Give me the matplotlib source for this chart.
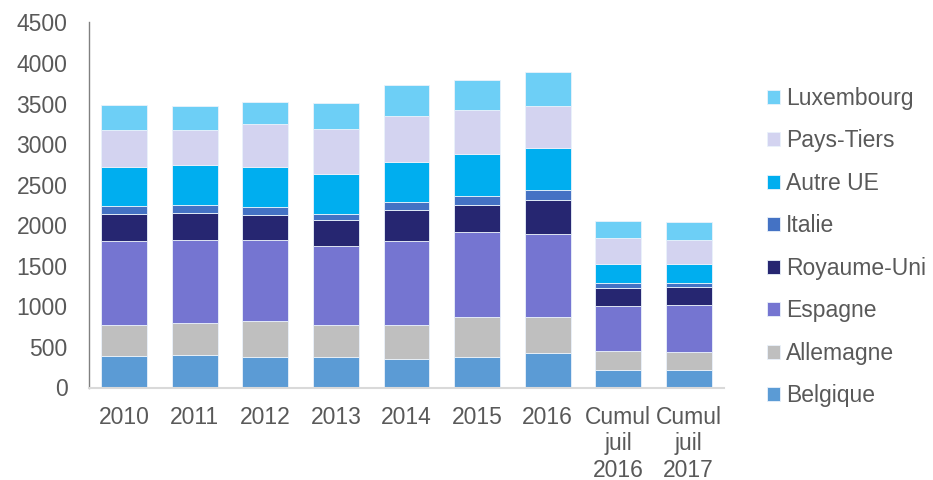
import matplotlib
matplotlib.use("Agg")
import matplotlib.pyplot as plt
import numpy as np

categories = ["2010", "2011", "2012", "2013", "2014", "2015", "2016",
              "Cumul\njuil\n2016", "Cumul\njuil\n2017"]
series_names = ["Belgique", "Allemagne", "Espagne", "Royaume-Uni", "Italie",
                "Autre UE", "Pays-Tiers", "Luxembourg"]
belgique    = [391, 404, 379, 371, 354, 371, 424, 215, 219]
allemagne   = [377, 389, 439, 401, 418, 496, 451, 238, 214]
espagne     = [1042, 1020, 1004, 968, 1029, 1049, 1021, 549, 581]
royaume_uni = [327, 336, 303, 319, 385, 336, 413, 221, 222]
italie      = [103, 103, 102, 82, 99, 111, 128, 66, 49]
autre_ue    = [483, 488, 492, 488, 496, 512, 520, 238, 242]
pays_tiers  = [447, 438, 533, 558, 569, 549, 508, 320, 297]
luxembourg  = [316, 292, 262, 323, 382, 365, 423, 200, 217]
yticks = [0, 500, 1000, 1500, 2000, 2500, 3000, 3500, 4000, 4500]

colors = ["#5B9BD5", "#BFBFBF", "#7575D1", "#262671", "#4472C4",
          "#00AEEF", "#D3D3F0", "#6DCFF6"]
data = [belgique, allemagne, espagne, royaume_uni, italie, autre_ue,
        pays_tiers, luxembourg]

FS = 16.5
plt.rcParams['font.family'] = ['Liberation Sans', 'DejaVu Sans']
fig = plt.figure(figsize=(9.33, 4.8), dpi=100)
W, H = 933, 480
ax = fig.add_axes([89 / W, (H - 387.5) / H, (724 - 89) / W, (387.5 - 22.5) / H])

x = np.arange(len(categories))
bottom = np.zeros(len(categories))
handles = []
for name, vals, c in zip(series_names, data, colors):
    vals = np.array(vals, dtype=float)
    b = ax.bar(x, vals, 0.65, bottom=bottom, color=c, label=name,
               edgecolor="#EAF2FB", linewidth=0.6)
    handles.append(b)
    bottom += vals

ax.set_xlim(-0.5, len(categories) - 0.5)
ax.set_ylim(0, 4500)
ax.set_yticks(yticks)
ax.set_xticks(x)
ax.set_xticklabels(categories, linespacing=1.2)
ax.tick_params(axis="both", length=0, labelsize=FS, labelcolor="#595959")
ax.tick_params(axis="y", pad=15.5)
ax.tick_params(axis="x", pad=13)
for s in ["top", "right"]:
    ax.spines[s].set_visible(False)
ax.spines["left"].set_color("#808080")
ax.spines["left"].set_linewidth(1.0)
ax.spines["bottom"].set_color("#D9D9D9")
ax.spines["bottom"].set_linewidth(1.5)

leg = fig.legend(handles[::-1], series_names[::-1], loc="upper left",
                 bbox_to_anchor=(767 / W, (H - 87) / H), frameon=False,
                 fontsize=FS, labelcolor="#595959", handlelength=0.57,
                 handleheight=0.57, handletextpad=0.25, labelspacing=0.85,
                 borderpad=0, borderaxespad=0)

fig.savefig("out.png", dpi=100)
